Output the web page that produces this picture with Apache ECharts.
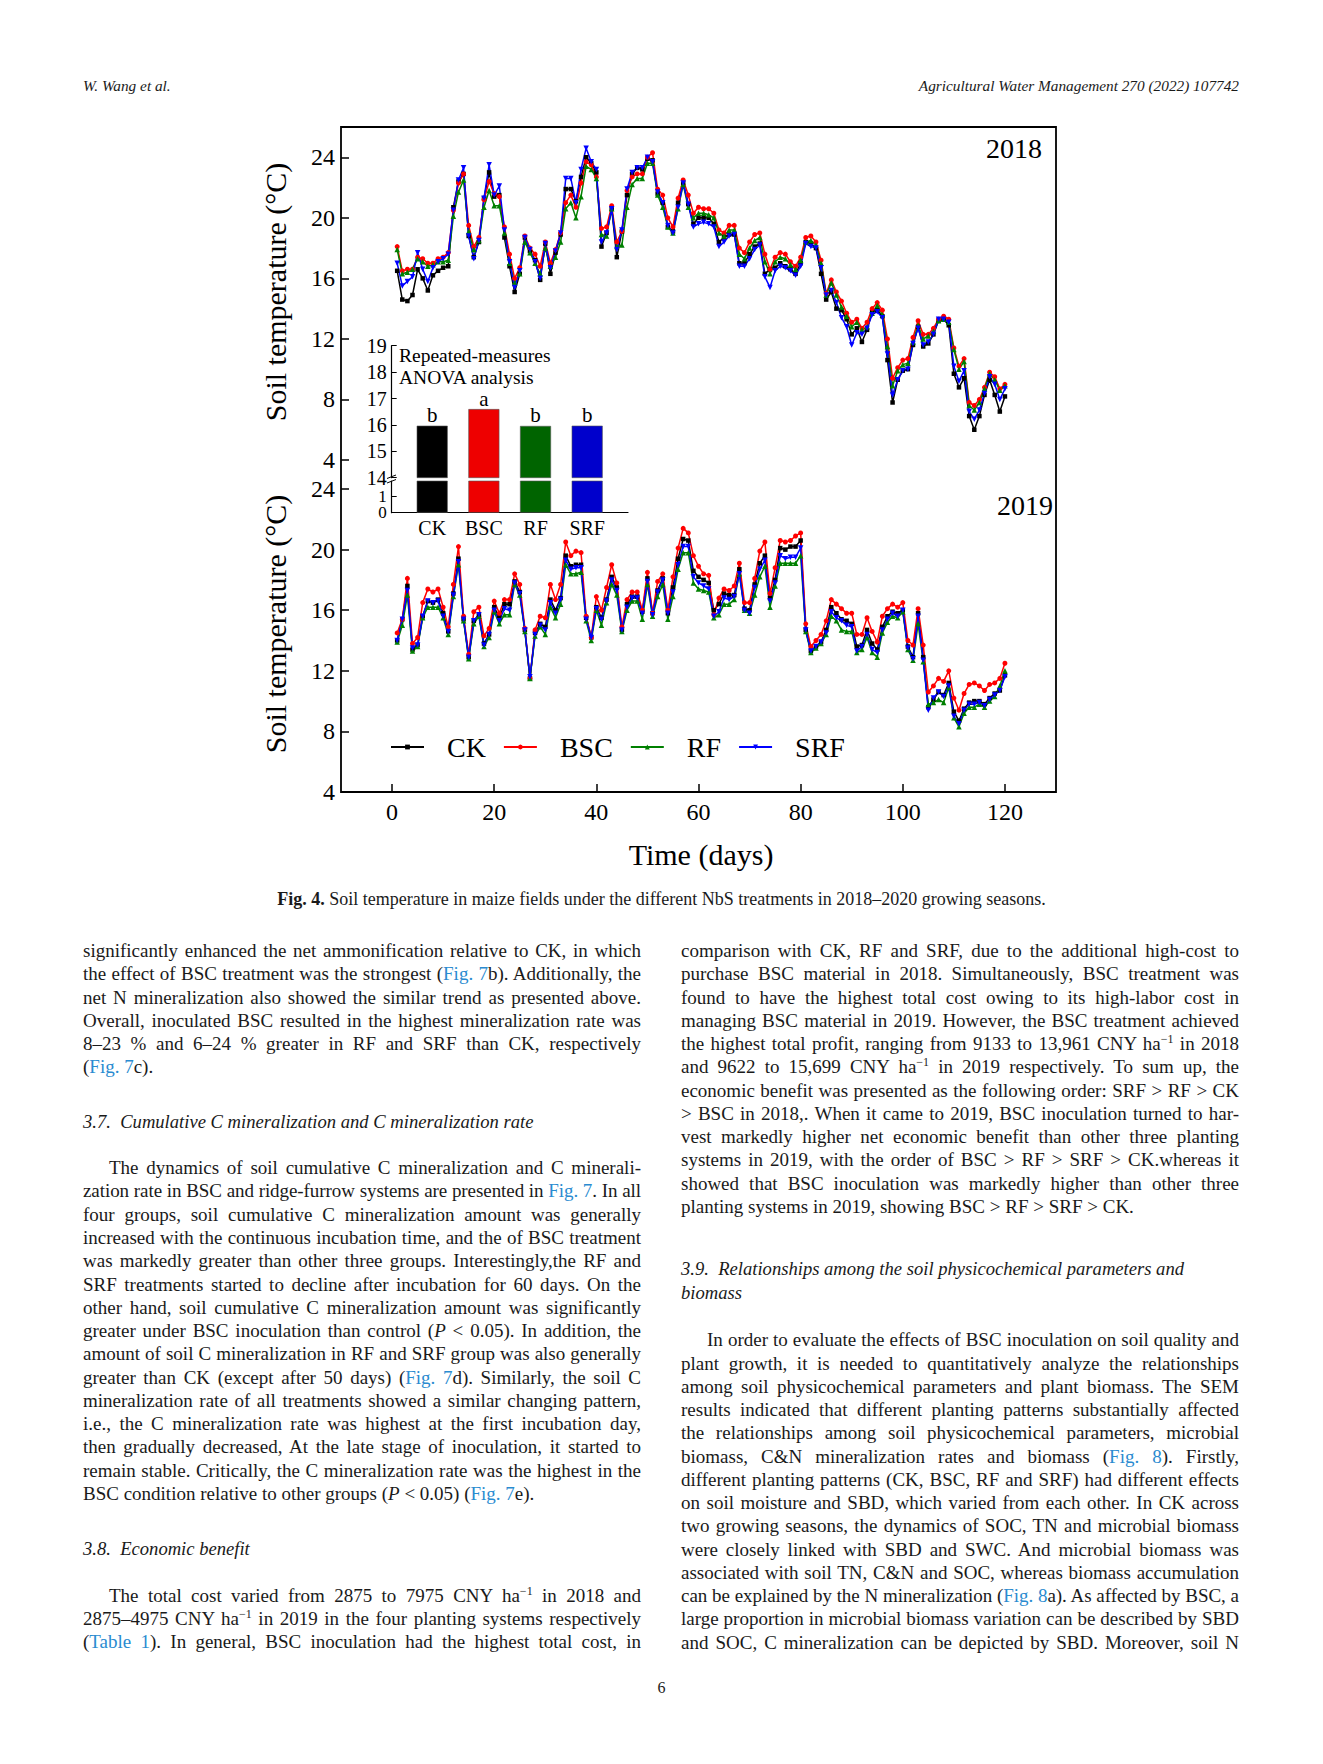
<!DOCTYPE html>
<html><head><meta charset="utf-8">
<script src="https://cdn.jsdelivr.net/npm/echarts@6/dist/echarts.min.js"></script>
<style>
body{margin:0;background:#fff;width:1323px;height:1764px;position:relative;overflow:hidden;font-family:'Liberation Serif',serif;color:#1a1a1a;}
#chart{position:absolute;left:0;top:0;width:1323px;height:880px;}
.hdr{position:absolute;font-style:italic;font-size:15.3px;top:77px;white-space:nowrap;}
.cap{position:absolute;left:0;width:1323px;top:889px;text-align:center;font-size:18px;white-space:nowrap;}
.col{position:absolute;width:558px;font-size:19px;line-height:23.27px;}
.col div{white-space:nowrap;text-align:justify;text-align-last:justify;}
.col div.last{text-align-last:left;}
.col div.ind{text-indent:26px;}
.h{font-style:italic;font-size:18.6px;}
.l{color:#2a8bd0;}
sup{font-size:12px;line-height:0;vertical-align:7px;}
.pg{position:absolute;left:0;width:1323px;text-align:center;top:1679px;font-size:16px;}
</style></head>
<body>
<div id="chart"></div>
<div class="hdr" style="left:83px">W. Wang et al.</div>
<div class="hdr" style="right:84px">Agricultural Water Management 270 (2022) 107742</div>
<div class="cap"><b>Fig. 4.</b> Soil temperature in maize fields under the different NbS treatments in 2018–2020 growing seasons.</div>

<div class="col" style="left:83px;top:939px">
<div>significantly enhanced the net ammonification relative to CK, in which</div>
<div>the effect of BSC treatment was the strongest (<span class="l">Fig. 7</span>b). Additionally, the</div>
<div>net N mineralization also showed the similar trend as presented above.</div>
<div>Overall, inoculated BSC resulted in the highest mineralization rate was</div>
<div>8–23 % and 6–24 % greater in RF and SRF than CK, respectively</div>
<div class="last">(<span class="l">Fig. 7</span>c).</div>
</div>
<div class="col h" style="left:83px;top:1110px"><div class="last">3.7.&nbsp; Cumulative C mineralization and C mineralization rate</div></div>
<div class="col" style="left:83px;top:1156.2px">
<div class="ind">The dynamics of soil cumulative C mineralization and C minerali-</div>
<div>zation rate in BSC and ridge-furrow systems are presented in <span class="l">Fig. 7</span>. In all</div>
<div>four groups, soil cumulative C mineralization amount was generally</div>
<div>increased with the continuous incubation time, and the of BSC treatment</div>
<div>was markedly greater than other three groups. Interestingly,the RF and</div>
<div>SRF treatments started to decline after incubation for 60 days. On the</div>
<div>other hand, soil cumulative C mineralization amount was significantly</div>
<div>greater under BSC inoculation than control (<i>P</i> &lt; 0.05). In addition, the</div>
<div>amount of soil C mineralization in RF and SRF group was also generally</div>
<div>greater than CK (except after 50 days) (<span class="l">Fig. 7</span>d). Similarly, the soil C</div>
<div>mineralization rate of all treatments showed a similar changing pattern,</div>
<div>i.e., the C mineralization rate was highest at the first incubation day,</div>
<div>then gradually decreased, At the late stage of inoculation, it started to</div>
<div>remain stable. Critically, the C mineralization rate was the highest in the</div>
<div class="last">BSC condition relative to other groups (<i>P</i> &lt; 0.05) (<span class="l">Fig. 7</span>e).</div>
</div>
<div class="col h" style="left:83px;top:1537.4px"><div class="last">3.8.&nbsp; Economic benefit</div></div>
<div class="col" style="left:83px;top:1583.6px">
<div class="ind">The total cost varied from 2875 to 7975 CNY ha<sup>−1</sup> in 2018 and</div>
<div>2875–4975 CNY ha<sup>−1</sup> in 2019 in the four planting systems respectively</div>
<div>(<span class="l">Table 1</span>). In general, BSC inoculation had the highest total cost, in</div>
</div>

<div class="col" style="left:681px;top:939px">
<div>comparison with CK, RF and SRF, due to the additional high-cost to</div>
<div>purchase BSC material in 2018. Simultaneously, BSC treatment was</div>
<div>found to have the highest total cost owing to its high-labor cost in</div>
<div>managing BSC material in 2019. However, the BSC treatment achieved</div>
<div>the highest total profit, ranging from 9133 to 13,961 CNY ha<sup>−1</sup> in 2018</div>
<div>and 9622 to 15,699 CNY ha<sup>−1</sup> in 2019 respectively. To sum up, the</div>
<div>economic benefit was presented as the following order: SRF &gt; RF &gt; CK</div>
<div>&gt; BSC in 2018,. When it came to 2019, BSC inoculation turned to har-</div>
<div>vest markedly higher net economic benefit than other three planting</div>
<div>systems in 2019, with the order of BSC &gt; RF &gt; SRF &gt; CK.whereas it</div>
<div>showed that BSC inoculation was markedly higher than other three</div>
<div class="last">planting systems in 2019, showing BSC &gt; RF &gt; SRF &gt; CK.</div>
</div>
<div class="col h" style="left:681px;top:1257.4px">
<div class="last">3.9.&nbsp; Relationships among the soil physicochemical parameters and</div>
<div class="last">biomass</div>
</div>
<div class="col" style="left:681px;top:1328.3px">
<div class="ind">In order to evaluate the effects of BSC inoculation on soil quality and</div>
<div>plant growth, it is needed to quantitatively analyze the relationships</div>
<div>among soil physicochemical parameters and plant biomass. The SEM</div>
<div>results indicated that different planting patterns substantially affected</div>
<div>the relationships among soil physicochemical parameters, microbial</div>
<div>biomass, C&amp;N mineralization rates and biomass (<span class="l">Fig. 8</span>). Firstly,</div>
<div>different planting patterns (CK, BSC, RF and SRF) had different effects</div>
<div>on soil moisture and SBD, which varied from each other. In CK across</div>
<div>two growing seasons, the dynamics of SOC, TN and microbial biomass</div>
<div>were closely linked with SBD and SWC. And microbial biomass was</div>
<div>associated with soil TN, C&amp;N and SOC, whereas biomass accumulation</div>
<div>can be explained by the N mineralization (<span class="l">Fig. 8</span>a). As affected by BSC, a</div>
<div>large proportion in microbial biomass variation can be described by SBD</div>
<div>and SOC, C mineralization can be depicted by SBD. Moreover, soil N</div>
</div>
<div class="pg">6</div>

<script>
// ---- data ----
const days = Array.from({length: 120}, (_, i) => i + 1);
const treatments = ['CK', 'BSC', 'RF', 'SRF'];

const ck2018 = [16.5,14.6,14.5,14.9,16.6,16.0,15.2,16.2,16.5,16.7,16.8,20.7,22.4,22.9,18.8,17.4,18.4,21.3,23.0,21.4,
21.5,18.7,16.8,15.1,16.3,18.7,17.8,17.2,15.9,18.3,16.3,17.7,18.9,21.9,21.9,21.1,22.7,24.0,23.6,23.0,
18.1,19.0,20.6,17.4,19.1,21.5,22.9,23.3,23.2,23.9,23.8,21.6,21.0,19.4,19.1,21.0,22.3,20.9,19.6,20.0,
20.0,20.0,19.6,18.4,18.7,18.9,18.9,17.0,17.0,17.6,18.1,18.3,16.3,16.6,16.7,17.0,16.8,16.6,16.3,17.0,
18.4,18.3,18.0,16.3,14.6,15.1,14.0,13.9,13.3,12.3,12.7,11.8,12.6,13.8,13.9,13.5,10.6,7.8,9.3,9.9,
10.0,11.6,12.8,11.5,11.7,12.3,13.2,13.3,12.9,9.7,8.8,9.4,6.9,6.0,6.9,8.3,9.3,8.3,7.2,8.2];
const bsc2018 = [18.1,16.5,16.6,16.6,17.4,17.3,17.0,17.0,17.3,17.4,17.7,20.5,22.3,22.9,19.5,18.1,18.7,21.2,22.4,21.6,
21.4,19.4,17.6,16.0,16.7,18.8,18.0,17.6,16.8,18.4,17.0,17.9,19.0,21.0,21.5,20.7,22.3,23.7,23.5,22.7,
19.3,19.4,20.8,18.4,19.1,21.8,22.7,22.9,22.9,24.0,24.3,21.9,21.5,20.0,19.4,21.3,22.5,21.5,20.3,20.7,
20.6,20.6,20.3,19.2,19.0,19.5,19.5,18.0,17.7,18.4,18.9,19.0,17.6,16.6,17.4,17.7,17.6,17.1,16.8,17.4,
18.7,18.8,18.4,17.2,15.0,15.9,15.1,14.5,13.7,13.1,13.3,12.7,13.1,14.0,14.4,13.9,12.0,9.4,10.1,10.6,
10.7,12.1,13.2,12.3,12.3,12.7,13.3,13.5,13.3,11.4,10.2,10.7,7.8,7.6,8.0,8.8,9.8,9.5,8.7,9.0];
const rf2018 = [17.9,16.3,16.4,16.6,17.3,17.1,16.8,16.9,17.1,17.1,17.2,20.1,21.7,22.5,19.1,17.9,18.5,20.7,21.8,20.8,
20.8,19.0,17.0,15.7,16.3,18.4,17.7,17.0,16.3,18.0,16.8,17.4,18.4,20.6,21.0,20.0,21.4,23.4,23.2,22.6,
18.9,18.8,20.6,18.1,18.2,20.7,22.2,22.6,22.6,23.6,23.6,21.5,20.7,19.4,19.0,20.6,22.2,20.7,20.0,20.3,
20.3,20.2,20.0,19.0,18.8,19.2,19.2,17.6,17.3,18.0,18.5,18.7,17.1,16.3,17.1,17.4,17.3,16.9,16.6,17.2,
18.4,18.5,18.2,17.0,14.9,15.7,14.9,14.1,13.5,12.8,13.1,12.6,12.8,13.7,14.2,13.6,11.5,8.9,9.9,10.3,
10.4,11.8,12.9,12.0,12.2,12.5,13.2,13.3,13.1,11.3,10.0,10.5,7.6,7.3,7.8,8.7,9.7,9.3,8.6,8.9];
const srf2018 = [17.0,15.5,15.8,16.1,17.7,16.6,15.8,16.7,17.1,17.3,17.6,20.5,22.5,23.3,18.8,17.3,18.5,21.3,23.5,21.5,
22.1,19.2,17.1,15.4,16.5,18.7,17.9,17.1,16.0,18.3,16.7,17.8,19.0,22.6,22.6,21.0,23.2,24.6,23.7,23.2,
18.4,19.0,20.6,17.9,19.2,21.9,23.0,23.3,23.3,24.0,23.7,21.7,21.0,19.5,19.0,20.7,22.3,20.9,19.4,19.6,
19.7,19.6,19.4,18.1,18.4,18.8,18.9,16.8,16.8,17.3,17.9,18.2,16.1,15.4,16.5,16.8,16.7,16.5,16.2,16.8,
18.3,18.1,18.0,16.7,14.9,15.2,14.4,13.4,12.8,11.6,12.4,12.3,12.7,13.6,13.8,13.4,11.0,8.3,9.3,9.9,
10.0,11.7,12.7,11.6,11.8,12.3,13.3,13.3,13.1,10.2,9.2,9.9,7.2,6.7,7.3,8.4,9.5,9.0,8.0,8.7];

const ck2019 = [14.0,15.4,17.6,13.4,13.7,15.6,16.6,16.5,16.7,15.8,14.6,17.1,19.4,15.4,12.9,15.3,15.7,13.8,14.4,16.2,
15.5,16.4,16.4,17.9,17.2,14.7,11.5,14.5,15.1,14.9,16.7,16.0,16.8,19.6,18.9,19.0,19.0,15.5,14.2,16.2,
15.5,16.7,18.2,17.5,14.7,16.4,16.9,16.9,15.9,18.1,15.8,17.3,18.1,15.8,17.5,19.4,20.7,20.6,18.6,18.2,
18.0,17.8,16.0,16.4,17.1,17.0,17.0,18.7,16.1,16.0,17.7,19.1,19.6,16.8,18.0,20.1,20.0,20.2,20.2,20.6,
14.7,13.3,13.6,13.9,14.7,16.2,15.8,15.4,15.3,15.1,13.6,13.7,14.7,13.8,13.4,14.9,15.6,15.9,15.8,16.0,
13.6,12.9,15.8,12.9,9.6,10.1,10.6,10.4,11.2,9.3,8.7,9.5,9.9,10.0,10.0,9.8,10.2,10.5,10.7,11.7];
const bsc2019 = [14.5,15.4,18.1,13.8,14.2,16.5,17.4,17.2,17.4,16.2,14.9,17.7,20.2,15.6,13.1,15.9,16.2,14.3,14.8,16.6,
15.8,16.7,16.7,18.4,17.7,14.8,11.5,14.7,15.6,15.5,17.7,16.7,17.7,20.5,19.6,19.9,19.8,15.6,14.2,16.9,
16.0,17.5,19.0,17.8,14.9,16.7,17.2,17.2,16.0,18.5,15.8,17.9,18.4,16.0,18.2,20.1,21.4,21.1,19.6,18.9,
18.4,18.3,15.7,16.8,17.4,17.3,17.6,19.1,16.5,16.5,18.1,19.9,20.5,17.1,18.8,20.6,20.5,20.6,20.9,21.1,
15.1,13.6,14.0,14.4,15.3,16.7,16.4,16.1,15.8,15.8,14.4,14.4,15.5,14.6,13.9,15.6,16.1,16.4,16.2,16.5,
14.0,13.7,16.1,13.7,10.6,11.0,11.5,11.3,12.0,10.2,9.4,10.5,11.1,11.2,11.0,10.7,11.1,11.2,11.5,12.5];
const rf2019 = [13.9,15.0,17.0,13.3,13.6,15.5,16.2,16.2,16.2,15.5,14.4,16.9,19.0,15.3,12.8,15.1,15.6,13.6,14.2,15.9,
15.1,15.7,15.7,17.7,17.0,14.6,11.5,14.3,14.9,14.4,16.2,15.5,16.4,19.0,18.4,18.4,18.5,15.3,14.0,16.0,
15.0,16.5,17.7,17.0,14.6,16.0,16.6,16.6,15.4,17.7,15.6,16.9,17.7,15.4,16.9,18.7,19.8,19.8,17.8,17.4,
17.3,17.2,15.5,15.7,16.4,16.4,16.7,18.4,16.0,15.8,17.0,18.2,18.9,16.2,17.6,19.1,19.1,19.1,19.1,19.6,
14.6,13.2,13.5,13.8,14.4,15.6,15.3,14.7,14.6,14.6,13.2,13.4,14.2,13.2,12.9,14.5,15.2,15.6,15.5,15.9,
13.4,12.7,15.1,12.6,9.8,9.9,10.1,9.9,10.9,8.9,8.3,9.2,9.6,9.6,9.8,9.6,10.0,10.3,11.0,12.0];
const srf2019 = [14.0,15.4,17.3,13.5,13.7,15.6,16.6,16.5,16.6,15.6,14.6,17.0,19.2,15.4,12.9,15.3,15.7,13.7,14.4,16.0,
15.3,16.1,16.0,17.8,17.1,14.7,11.6,14.4,15.0,14.7,16.5,15.8,16.7,19.3,18.7,18.8,18.8,15.4,14.2,16.1,
15.4,16.6,18.0,17.3,14.7,16.2,16.8,16.8,15.8,17.9,15.7,17.2,18.0,15.8,17.2,19.0,20.2,20.2,18.2,17.8,
17.6,17.4,15.6,15.9,16.8,16.7,16.9,18.4,16.0,15.8,17.5,18.7,19.3,16.6,17.8,19.6,19.4,19.5,19.5,20.1,
14.7,13.3,13.6,13.9,14.5,15.9,15.5,15.3,15.0,14.9,13.3,13.6,14.4,13.4,13.2,14.7,15.4,15.8,15.6,16.0,
13.5,12.8,15.6,12.7,9.4,10.2,10.6,10.3,11.0,9.0,8.5,9.4,9.8,9.8,9.9,9.7,10.1,10.4,10.7,11.6];

// inset: repeated-measures ANOVA means
const meanTemp = [15.97, 16.6, 15.96, 15.97];
const sigLetters = ['b', 'a', 'b', 'b'];

// tick labels
const yTicks = [4, 8, 12, 16, 20, 24];
const xTicks = [0, 20, 40, 60, 80, 100, 120];
const insetUpperTicks = [14, 15, 16, 17, 18, 19];
const insetLowerTicksA = [0];
const insetLowerTicksB = [1];

// ---- styles ----
const F = 'Liberation Serif';
const col = {CK: '#000000', BSC: '#ff0000', RF: '#008000', SRF: '#0000ff'};
const barCol = ['#000000', '#ee0000', '#006400', '#0000cc'];
const sym = {CK: ['rect', 0, 4.5], BSC: ['circle', 0, 5], RF: ['triangle', 0, 5.5], SRF: ['triangle', 180, 5.5]};

function lineSeries(name, vals, gi) {
  return {
    type: 'line', name: name, xAxisIndex: gi, yAxisIndex: gi,
    data: days.map((d, i) => [d, vals[i]]),
    symbol: sym[name][0], symbolRotate: sym[name][1], symbolSize: sym[name][2],
    itemStyle: {color: col[name]}, lineStyle: {color: col[name], width: 1.5},
    animation: false
  };
}

const tickStyle = {color: '#000', width: 1.5};
function mainY(gi, min, max) {
  return {
    gridIndex: gi, type: 'value', min: min, max: max,
    axisLine: {show: false, onZero: false},
    axisTick: {inside: true, length: 8, customValues: yTicks, lineStyle: tickStyle},
    axisLabel: {customValues: yTicks, fontFamily: F, fontSize: 24, color: '#000', margin: 6, lineHeight: 22, showMinLabel: true, showMaxLabel: true, hideOverlap: false},
    splitLine: {show: false}
  };
}
function lowerInsetY(ticks, showLine) {
  return {
    gridIndex: 3, type: 'value', min: 0, max: 1.9, position: 'left', offset: 0,
    axisLine: {show: showLine, onZero: false, lineStyle: {color: '#000', width: 1.2}},
    axisTick: {inside: true, length: 5, customValues: ticks, lineStyle: {color: '#000', width: 1}},
    axisLabel: {customValues: ticks, fontFamily: F, fontSize: 17, color: '#000', margin: 5, lineHeight: 14, showMinLabel: true, showMaxLabel: true, hideOverlap: false},
    splitLine: {show: false}
  };
}

const chart = echarts.init(document.getElementById('chart'), null, {renderer: 'svg'});
const option = {
  animation: false,
  grid: [
    {left: 341, top: 127, width: 715, height: 333},
    {left: 341, top: 489, width: 715, height: 303},
    {left: 391.7, top: 345.7, width: 236.3, height: 132},
    {left: 391.7, top: 481, width: 236.3, height: 31.7}
  ],
  xAxis: [
    {gridIndex: 0, type: 'value', min: -10, max: 130, show: false},
    {gridIndex: 1, type: 'value', min: -10, max: 130,
      axisLine: {show: false, onZero: false},
      axisTick: {inside: true, length: 8, customValues: xTicks, lineStyle: tickStyle},
      axisLabel: {customValues: xTicks, fontFamily: F, fontSize: 24, color: '#000', margin: 8, showMinLabel: true, hideOverlap: false},
      splitLine: {show: false}},
    {gridIndex: 2, type: 'value', min: -0.784, max: 3.79, show: false},
    {gridIndex: 3, type: 'value', min: -0.784, max: 3.79,
      axisLine: {show: true, onZero: false, lineStyle: {color: '#000', width: 1.2}},
      axisTick: {show: false},
      axisLabel: {customValues: [0, 1, 2, 3], formatter: v => treatments[Math.round(v)], fontFamily: F, fontSize: 20, color: '#000', margin: 5, hideOverlap: false},
      splitLine: {show: false}}
  ],
  yAxis: [
    mainY(0, 4, 26),
    mainY(1, 4, 24),
    {gridIndex: 2, type: 'value', min: 14, max: 19,
      axisLine: {show: true, onZero: false, lineStyle: {color: '#000', width: 1.2}},
      axisTick: {inside: true, length: 5, customValues: insetUpperTicks, lineStyle: {color: '#000', width: 1}},
      axisLabel: {customValues: insetUpperTicks, fontFamily: F, fontSize: 20, color: '#000', margin: 5, lineHeight: 16, showMinLabel: true, showMaxLabel: true, hideOverlap: false},
      splitLine: {show: false}},
    lowerInsetY(insetLowerTicksA, true),
    lowerInsetY(insetLowerTicksB, false)
  ],
  legend: {
    data: treatments, left: 390, top: 733, orient: 'horizontal', padding: 0,
    itemGap: 17, itemWidth: 33, itemHeight: 6, selectedMode: false,
    textStyle: {fontFamily: F, fontSize: 28, color: '#000', lineHeight: 28, padding: [0, 0, 0, 18]}
  },
  series: [
    lineSeries('CK', ck2018, 0), lineSeries('BSC', bsc2018, 0), lineSeries('RF', rf2018, 0), lineSeries('SRF', srf2018, 0),
    lineSeries('CK', ck2019, 1), lineSeries('BSC', bsc2019, 1), lineSeries('RF', rf2019, 1), lineSeries('SRF', srf2019, 1),
    {type: 'bar', xAxisIndex: 2, yAxisIndex: 2, barWidth: 31, clip: true,
      data: treatments.map((t, i) => ({value: [i, meanTemp[i]], itemStyle: {color: barCol[i], borderColor: '#555', borderWidth: 0.6}})),
      label: {show: true, position: 'top', distance: 0, formatter: p => sigLetters[p.dataIndex], fontFamily: F, fontSize: 21, color: '#000'}},
    {type: 'bar', xAxisIndex: 3, yAxisIndex: 3, barWidth: 31, clip: true,
      data: treatments.map((t, i) => ({value: [i, meanTemp[i]], itemStyle: {color: barCol[i], borderColor: '#555', borderWidth: 0.6}}))}
  ],
  graphic: [
    {type: 'rect', z: 50, shape: {x: 341, y: 127, width: 715, height: 665}, style: {fill: 'none', stroke: '#000', lineWidth: 1.8}},
    {type: 'text', x: 275, y: 292, rotation: Math.PI / 2, style: {text: 'Soil temperature (°C)', fontFamily: F, fontSize: 30, fill: '#000', align: 'center', verticalAlign: 'middle', textAlign: 'center', textVerticalAlign: 'middle'}},
    {type: 'text', x: 275, y: 624, rotation: Math.PI / 2, style: {text: 'Soil temperature (°C)', fontFamily: F, fontSize: 30, fill: '#000', align: 'center', verticalAlign: 'middle', textAlign: 'center', textVerticalAlign: 'middle'}},
    {type: 'text', x: 701, y: 854, style: {text: 'Time (days)', fontFamily: F, fontSize: 30, fill: '#000', align: 'center', verticalAlign: 'middle', textAlign: 'center', textVerticalAlign: 'middle'}},
    {type: 'text', x: 1042, y: 148, style: {text: '2018', fontFamily: F, fontSize: 28, fill: '#000', align: 'right', verticalAlign: 'middle', textAlign: 'right', textVerticalAlign: 'middle'}},
    {type: 'text', x: 1053, y: 505, style: {text: '2019', fontFamily: F, fontSize: 28, fill: '#000', align: 'right', verticalAlign: 'middle', textAlign: 'right', textVerticalAlign: 'middle'}},
    {type: 'text', x: 399, y: 355, style: {text: 'Repeated-measures', fontFamily: F, fontSize: 19.5, fill: '#000', align: 'left', verticalAlign: 'middle', textAlign: 'left', textVerticalAlign: 'middle'}},
    {type: 'text', x: 399, y: 377, style: {text: 'ANOVA analysis', fontFamily: F, fontSize: 19.5, fill: '#000', align: 'left', verticalAlign: 'middle', textAlign: 'left', textVerticalAlign: 'middle'}},
    {type: 'line', shape: {x1: 387, y1: 478.5, x2: 396, y2: 475}, style: {stroke: '#000', lineWidth: 1}},
    {type: 'line', shape: {x1: 387, y1: 483, x2: 396, y2: 479.5}, style: {stroke: '#000', lineWidth: 1}}
  ]
};
chart.setOption(option);

// keep every typeset line within the column width
function fitLines() {
  document.querySelectorAll('.col div').forEach(d => {
    d.style.letterSpacing = '';
    const over = d.scrollWidth - d.clientWidth;
    if (over > 0) {
      const n = d.textContent.length;
      d.style.letterSpacing = (-(over + 1) / n) + 'px';
    }
  });
}
fitLines();
if (document.fonts && document.fonts.ready) document.fonts.ready.then(fitLines);
</script>
</body></html>
